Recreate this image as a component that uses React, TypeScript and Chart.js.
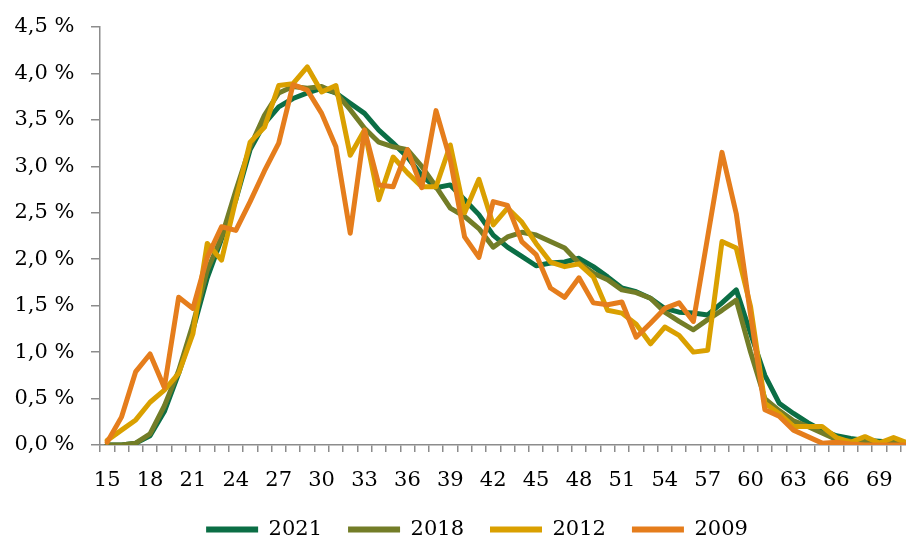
import React, { useEffect, useRef } from 'react';
import { Chart, registerables } from 'chart.js';

Chart.register(...registerables);

const ages = [
  15, 16, 17, 18, 19, 20, 21, 22, 23, 24, 25, 26, 27, 28, 29, 30, 31, 32, 33, 34,
  35, 36, 37, 38, 39, 40, 41, 42, 43, 44, 45, 46, 47, 48, 49, 50, 51, 52, 53, 54,
  55, 56, 57, 58, 59, 60, 61, 62, 63, 64, 65, 66, 67, 68, 69, 70, 71,
];

const series2021 = [
  0.0, 0.0, 0.02, 0.1, 0.36, 0.77, 1.24, 1.8, 2.22, 2.64, 3.18, 3.46, 3.64, 3.73, 3.79, 3.84, 3.79, 3.68, 3.57, 3.39,
  3.25, 3.1, 2.9, 2.77, 2.8, 2.64, 2.48, 2.26, 2.13, 2.03, 1.93, 1.96, 1.97, 2.01, 1.92, 1.81, 1.69, 1.65, 1.58, 1.47,
  1.43, 1.42, 1.4, 1.53, 1.67, 1.2, 0.75, 0.45, 0.34, 0.24, 0.16, 0.1, 0.07, 0.05, 0.04, 0.03, 0.02,
];

const series2018 = [
  0.0, 0.0, 0.02, 0.12, 0.42, 0.8, 1.3, 1.88, 2.24, 2.74, 3.21, 3.55, 3.79, 3.86, 3.84, 3.86, 3.79, 3.61, 3.41, 3.26,
  3.21, 3.18, 3.0, 2.78, 2.55, 2.46, 2.33, 2.13, 2.24, 2.29, 2.26, 2.19, 2.12, 1.96, 1.85, 1.78, 1.67, 1.64, 1.58, 1.43,
  1.33, 1.24, 1.35, 1.45, 1.56, 1.0, 0.5, 0.37, 0.26, 0.2, 0.13, 0.06, 0.04, 0.03, 0.02, 0.02, 0.02,
];

const series2012 = [
  0.05, 0.16, 0.27, 0.46, 0.59, 0.77, 1.2, 2.17, 1.99, 2.64, 3.26, 3.42, 3.87, 3.89, 4.07, 3.8, 3.87, 3.12, 3.39, 2.64,
  3.1, 2.93, 2.78, 2.78, 3.23, 2.5, 2.86, 2.37, 2.55, 2.4, 2.17, 1.97, 1.92, 1.95, 1.81, 1.45, 1.42, 1.3, 1.09, 1.27,
  1.18, 1.0, 1.02, 2.19, 2.12, 1.49, 0.45, 0.34, 0.2, 0.2, 0.2, 0.08, 0.03, 0.09, 0.02, 0.08, 0.02,
];

const series2009 = [
  0.03, 0.3, 0.79, 0.98, 0.62, 1.59, 1.47, 2.02, 2.35, 2.31, 2.62, 2.95, 3.25, 3.88, 3.82, 3.57, 3.21, 2.28, 3.39, 2.8,
  2.78, 3.18, 2.77, 3.6, 3.07, 2.24, 2.02, 2.62, 2.58, 2.19, 2.05, 1.69, 1.59, 1.8, 1.53, 1.51, 1.54, 1.16, 1.31, 1.47,
  1.53, 1.33, 2.24, 3.15, 2.49, 1.4, 0.38, 0.31, 0.16, 0.09, 0.02, 0.03, 0.01, 0.0, 0.0, 0.0, 0.0,
];

const seriesNames = ['2021', '2018', '2012', '2009'];
const seriesColors = ['#0b6e45', '#737d27', '#daa000', '#e57d1c'];
const seriesValues = [series2021, series2018, series2012, series2009];

const FONT = "'DejaVu Serif', serif";
const AXIS = '#8c8c8c';
const W = 954;
const H = 550;

export default function App() {
  const ref = useRef<HTMLCanvasElement>(null);

  useEffect(() => {
    document.body.style.margin = '0';
    document.body.style.overflow = 'hidden';
    const canvas = ref.current;
    if (!canvas) return;
    const chart = new Chart(canvas, {
      type: 'line',
      data: {
        labels: ages.map(String),
        datasets: seriesValues.map((vals, i) => ({
          label: seriesNames[i],
          data: vals,
          borderColor: seriesColors[i],
          backgroundColor: seriesColors[i],
          borderWidth: 5,
          borderJoinStyle: 'round' as const,
          borderCapStyle: 'round' as const,
          pointRadius: 0,
          pointHoverRadius: 0,
          tension: 0,
          fill: false,
          order: 3 - i,
        })),
      },
      options: {
        responsive: false,
        animation: false,
        layout: { padding: { left: 0, right: 0, top: 27, bottom: 0 } },
        plugins: {
          tooltip: { enabled: false },
          legend: {
            position: 'bottom',
            labels: {
              font: { family: FONT, size: 21 },
              color: '#000',
              boxWidth: 52,
              boxHeight: 6,
              padding: 26,
              sort: (a: any, b: any) => a.datasetIndex - b.datasetIndex,
              generateLabels: (c: any) =>
                Chart.defaults.plugins.legend.labels
                  .generateLabels(c)
                  .map((l: any) => ({ ...l, lineWidth: 0 })),
            },
          },
        },
        scales: {
          x: {
            type: 'category',
            offset: true,
            afterFit: (s: any) => {
              s.height = 48;
            },
            grid: {
              offset: true,
              drawOnChartArea: false,
              drawTicks: true,
              tickLength: 7,
              color: AXIS,
              lineWidth: 1.5,
            },
            border: { color: AXIS, width: 1.5 },
            ticks: {
              autoSkip: false,
              maxRotation: 0,
              minRotation: 0,
              padding: 16,
              color: '#000',
              font: { family: FONT, size: 21 },
              callback: (_v: any, i: number) => (i % 3 === 0 ? String(ages[i]) : ''),
            },
          },
          y: {
            min: 0,
            max: 4.5,
            afterFit: (s: any) => {
              s.width = 100;
            },
            grid: {
              drawOnChartArea: false,
              drawTicks: true,
              tickLength: 9,
              color: AXIS,
              lineWidth: 1.5,
            },
            border: { color: AXIS, width: 1.5 },
            ticks: {
              stepSize: 0.5,
              padding: 16.5,
              color: '#000',
              font: { family: FONT, size: 21, lineHeight: 1 },
              callback: (v: any) => Number(v).toFixed(1).replace('.', ',') + ' %',
            },
          },
          yPad: {
            type: 'linear',
            position: 'right',
            display: true,
            grid: { display: false },
            border: { display: false },
            ticks: { display: false },
            afterFit: (s: any) => {
              s.width = W - 915;
            },
          },
        },
      },
    });
    return () => chart.destroy();
  }, []);

  return (
    <div style={{ position: 'fixed', left: 0, top: 0, width: W, height: H, background: '#fff' }}>
      <canvas ref={ref} width={W} height={H} style={{ display: 'block' }} />
    </div>
  );
}
